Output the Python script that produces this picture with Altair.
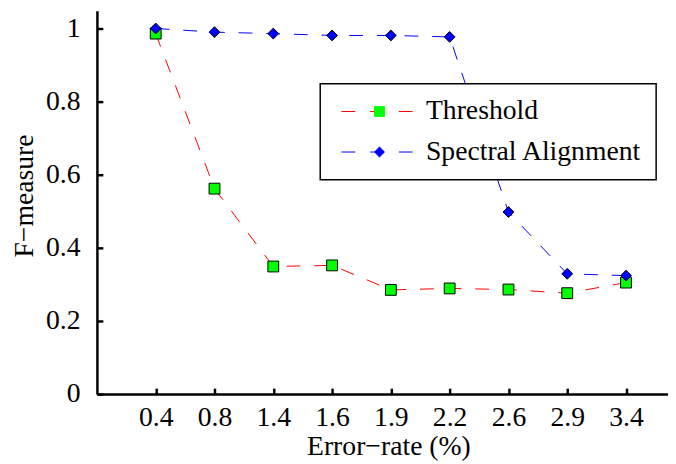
import json
import altair as alt
import pandas as pd

# ---- data ----
rates = ["0.4", "0.8", "1.4", "1.6", "1.9", "2.2", "2.6", "2.9", "3.4"]
threshold = [0.986, 0.562, 0.349, 0.352, 0.285, 0.289, 0.286, 0.276, 0.305]
spectral = [1.0, 0.99, 0.986, 0.981, 0.981, 0.977, 0.498, 0.329, 0.324]
series_names = ["Threshold", "Spectral Alignment"]
marker_keys = ["Threshold marker", "Spectral Alignment marker"]
line_colors = ["#ff0000", "#0000ff"]
marker_fills = ["#00ff00", "#0000ff"]
marker_shapes = ["square", "diamond"]

rows = []
for name, mkey, vals in zip(series_names, marker_keys, [threshold, spectral]):
    for i, (r, v) in enumerate(zip(rates, vals)):
        rows.append({"idx": i + 1, "rate": r, "series": name, "series_m": mkey, "value": v})
df = pd.DataFrame(rows)

W, H = 578, 388
XMAX = W / 59.5
YMAX = 1.0486
FONT = "Liberation Serif"
FS = 28

label_expr = json.dumps(rates) + "[datum.value - 1]"
NB = "\u00a0" * 4

xscale = alt.Scale(domain=[0, XMAX], nice=False, zero=False)
yscale = alt.Scale(domain=[0, YMAX], nice=False)

main_x = alt.Axis(
    values=list(range(1, len(rates) + 1)), labelExpr=label_expr, ticks=False, tickSize=0,
    grid=False, domainWidth=2.5, domainColor="black", labelFont=FONT, labelFontSize=FS,
    labelColor="black", labelPadding=10, title="Error\u2212rate (%)", titleFont=FONT,
    titleFontSize=FS, titleFontWeight="normal", titleColor="black", titleX=295, titleY=61,
    titleBaseline="alphabetic", titleAlign="center", labelOverlap=False, labelFlush=False,
)
main_y = alt.Axis(
    values=[0, 0.2, 0.4, 0.6, 0.8, 1], format="~g", ticks=False, tickSize=0, grid=False,
    domainWidth=2.5, domainColor="black", labelFont=FONT, labelFontSize=FS, labelColor="black",
    labelPadding=17, title="F\u2212measure", titleFont=FONT, titleFontSize=FS,
    titleFontWeight="normal", titleColor="black", titleX=-65, titleY=187, titleAngle=270,
    titleBaseline="alphabetic", titleAlign="center", labelOverlap=False, labelFlush=False,
)
tick_x = alt.Axis(
    orient="top", offset=-H, values=list(range(1, len(rates) + 1)), domain=False, labels=False,
    ticks=True, tickSize=6, tickWidth=2.5, tickColor="black", grid=False, title=None,
)
tick_y = alt.Axis(
    orient="right", offset=-W, values=[0, 0.2, 0.4, 0.6, 0.8, 1], domain=False, labels=False,
    ticks=True, tickSize=6, tickWidth=2.5, tickColor="black", grid=False, title=None,
)

line_legend = alt.Legend(
    orient="none", legendX=226, legendY=74, title=None, symbolType="M-6,0H6",
    symbolSize=148, symbolStrokeWidth=1, symbolDash=[14, 15], symbolOffset=30,
    strokeColor="black", fillColor="white", padding=14, labelFont=FONT, labelFontSize=FS,
    labelColor="black", labelOffset=35, rowPadding=13,
    labelExpr="datum.label + '" + NB + "'", labelLimit=0,
)
marker_legend = alt.Legend(
    orient="none", legendX=226, legendY=74, title=None, symbolSize=120,
    symbolStrokeColor="black", symbolStrokeWidth=1, symbolOffset=32, padding=14,
    labelFont=FONT, labelFontSize=FS, labelExpr="''", labelOffset=13, rowPadding=13,
    labelLimit=0,
)

lines = alt.Chart(df).mark_line(strokeDash=[14, 14], strokeWidth=1).encode(
    x=alt.X("idx:Q", scale=xscale, axis=main_x),
    y=alt.Y("value:Q", scale=yscale, axis=main_y),
    color=alt.Color("series:N", scale=alt.Scale(domain=series_names, range=line_colors),
                    legend=line_legend),
    detail="series:N",
)
points = alt.Chart(df).mark_point(filled=True, size=120, stroke="black", strokeWidth=1,
                                  opacity=1, fillOpacity=1).encode(
    x=alt.X("idx:Q", scale=xscale, axis=tick_x),
    y=alt.Y("value:Q", scale=yscale, axis=tick_y),
    fill=alt.Fill("series_m:N", scale=alt.Scale(domain=marker_keys, range=marker_fills),
                  legend=marker_legend),
    shape=alt.Shape("series_m:N", scale=alt.Scale(domain=marker_keys, range=marker_shapes),
                    legend=marker_legend),
)

chart = (
    alt.layer(lines, points)
    .resolve_axis(x="independent", y="independent")
    .resolve_legend(color="independent", fill="independent", shape="independent")
    .properties(width=W, height=H, padding={"left": 90, "top": 0, "right": 0, "bottom": 68},
                autosize=alt.AutoSizeParams(type="none"), background="white")
    .configure_view(stroke=None)
    .configure_legend(strokeWidth=1.5, labelFont=FONT)
)

chart.save("out.html", embed_options={"renderer": "svg", "actions": False})
